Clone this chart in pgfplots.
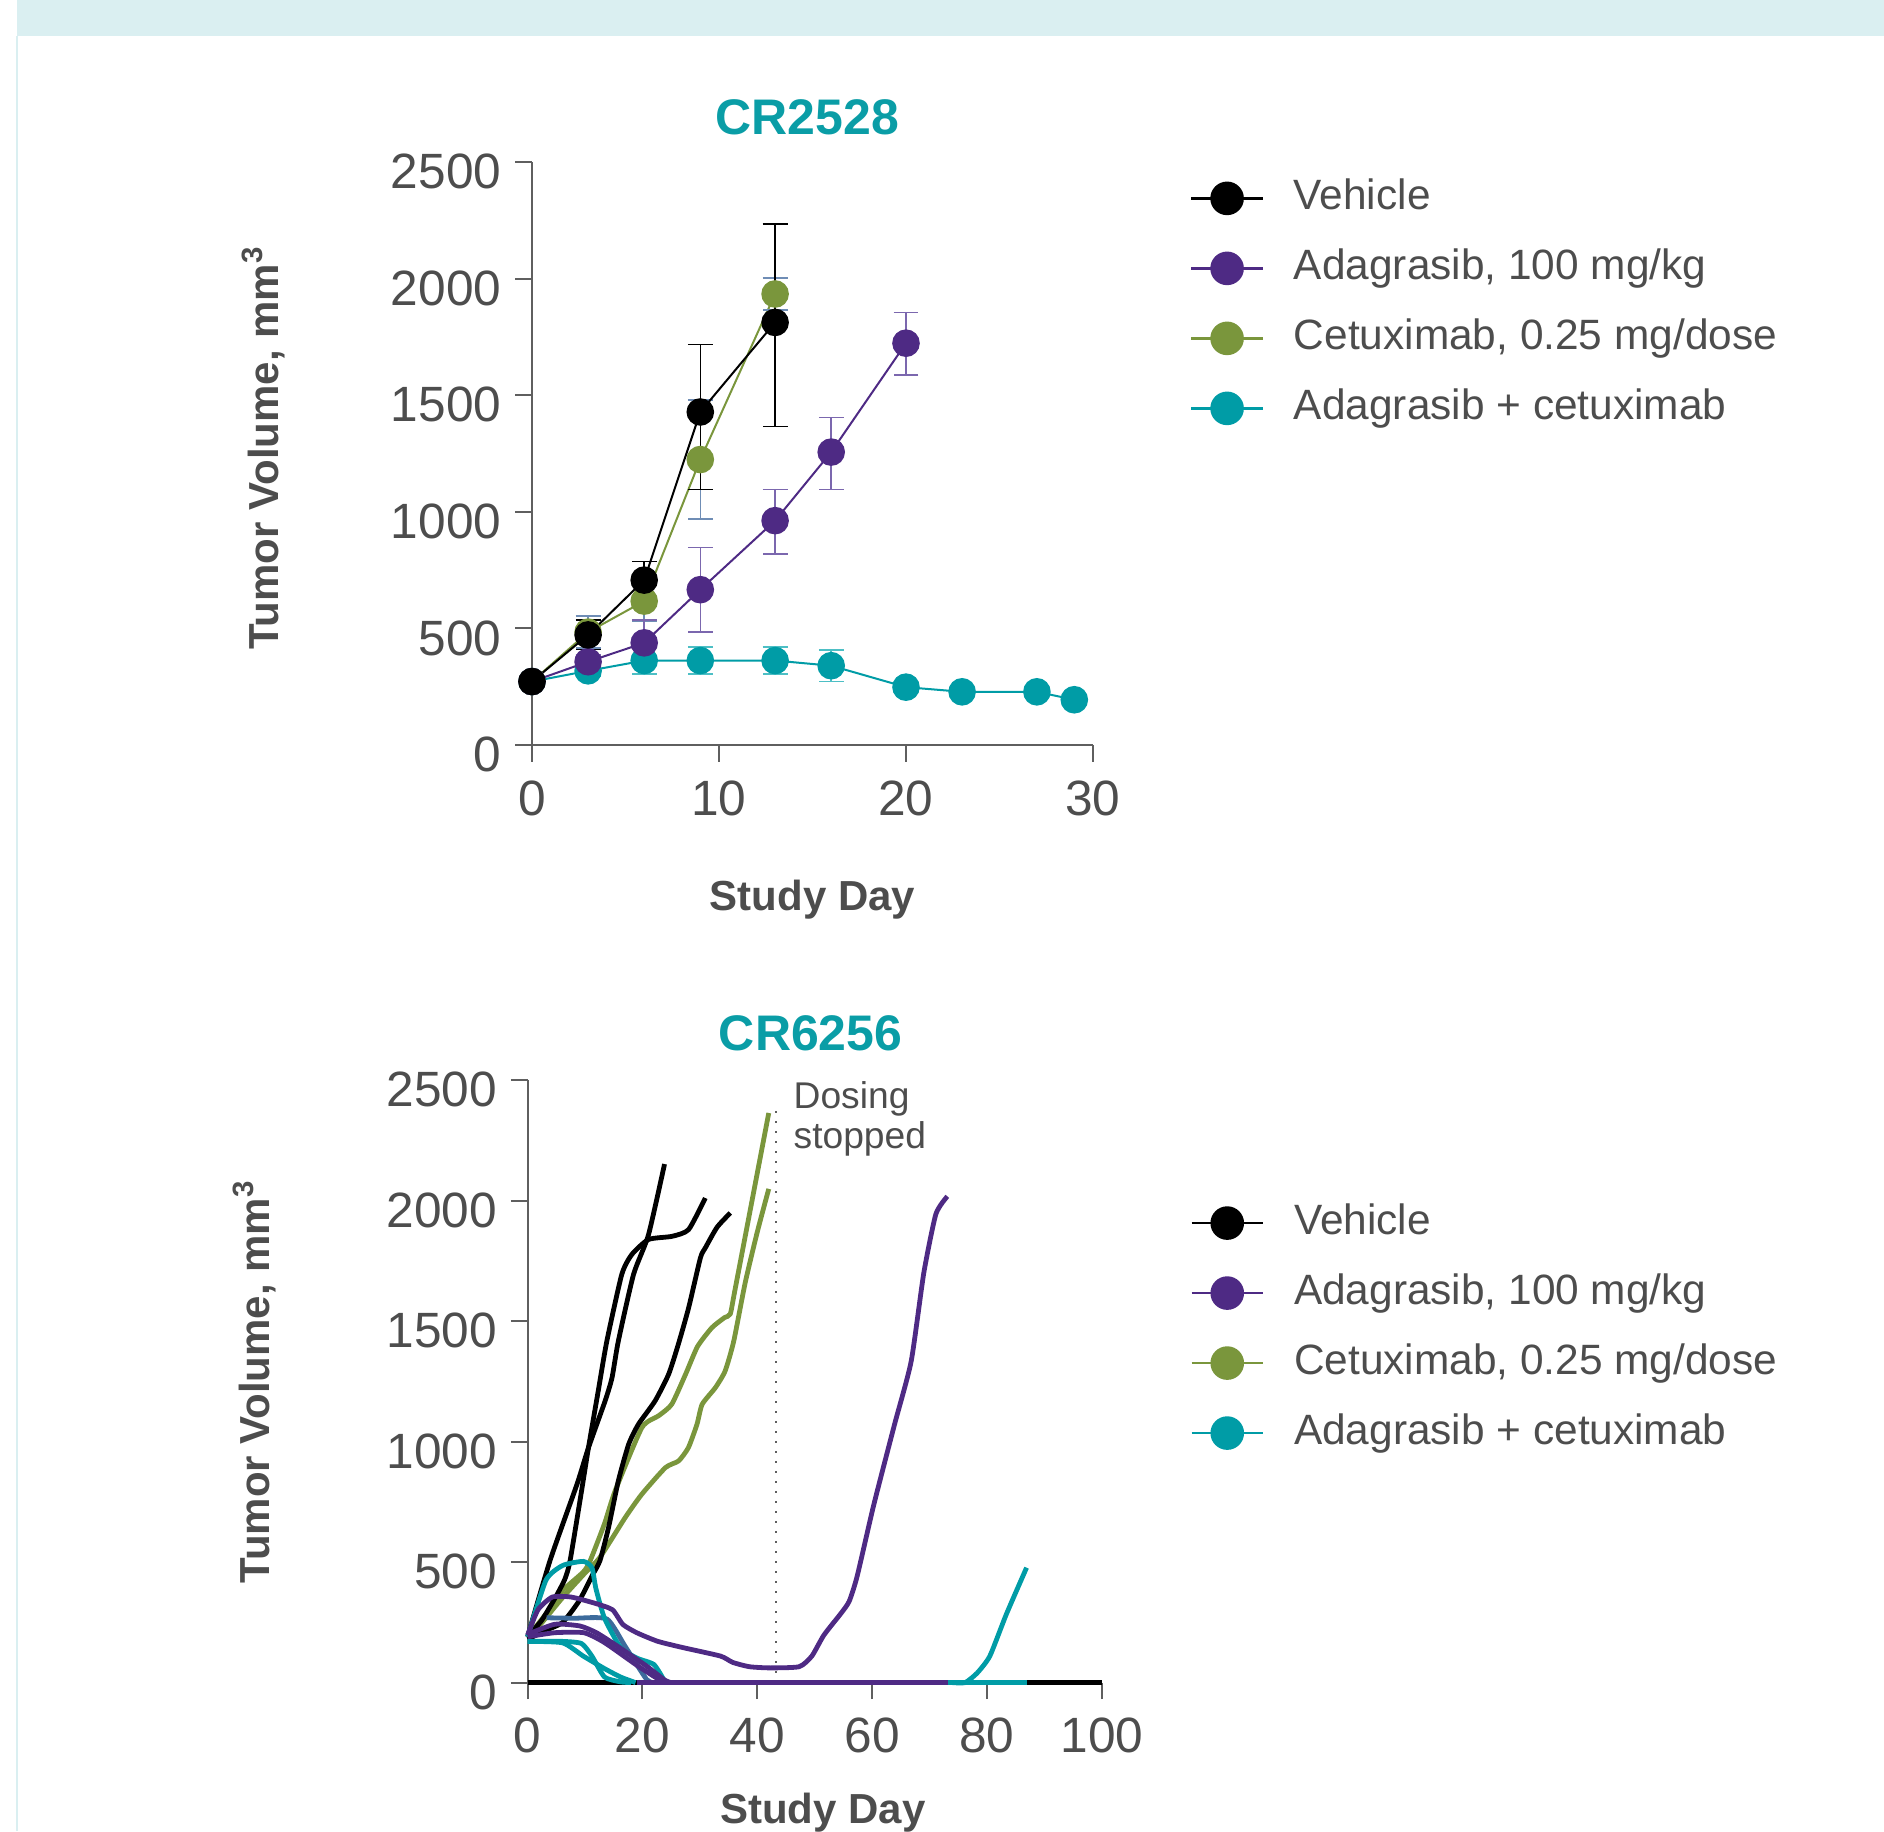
\documentclass[border=0pt]{standalone}
\usepackage{fontspec}
\setmainfont{Liberation Sans}
\usepackage{pgfplots}
\pgfplotsset{compat=1.18}
\definecolor{ada}{HTML}{4E2A84}
\definecolor{cet}{HTML}{7A963C}
\definecolor{combo}{HTML}{009CA6}
\definecolor{steel}{HTML}{3D6B9C}
\definecolor{ttl}{HTML}{0A9DA6}
\definecolor{txt}{HTML}{4D4D4D}
\definecolor{axc}{HTML}{5F5F5F}
\definecolor{band}{HTML}{DAEFF1}
\definecolor{adaerr}{HTML}{7B67AE}
\definecolor{ceterr}{HTML}{6F8DB5}
\definecolor{comboerr}{HTML}{4DBFC5}
\pgfplotsset{
  common/.style={
    scale only axis,
    axis x line*=bottom, axis y line*=left,
    axis line style={axc, line width=0.5pt},
    tick align=outside,
    major tick length=4.15pt,
    every tick/.style={axc, line width=0.5pt},
    tick label style={font=\fontsize{12.4}{14}\selectfont, text=txt},
    yticklabel style={yshift=-2.4pt},
    xticklabel style={yshift=-1.2pt},
    /pgf/number format/assume math mode=true,
    /pgf/number format/1000 sep={},
    label style={font=\bfseries\fontsize{10.5}{12}\selectfont, text=txt},
    title style={font=\bfseries\fontsize{12.5}{14}\selectfont, text=ttl},
    ymin=0, ymax=2500, ytick={0,500,...,2500},
    clip=false,
    legend cell align=left,
    legend style={draw=none, fill=none, inner sep=0pt, row sep=7.0pt,
      font=\fontsize{10.6}{12}\selectfont,
      nodes={inner sep=0pt, text height=8pt, text depth=2.5pt, text=txt},
      /tikz/every odd column/.append style={column sep=7.5pt}},
    legend image code/.code={\draw[#1, mark repeat=2, mark phase=2, line width=0.6pt] plot coordinates {(0pt,0pt) (8.9pt,0pt) (17.8pt,0pt)};},
  },
  crv/.style={line width=1.2pt, smooth, tension=0.35, forget plot},
}
\begin{document}
\begin{tikzpicture}
\useasboundingbox (0,0) rectangle (471pt,457.75pt);
\fill[band] (4.25pt,448.75pt) rectangle (471pt,457.75pt);
\draw[band, line width=0.6pt] (4.25pt,0pt) -- (4.25pt,448.75pt);

% ---------------- top chart ----------------
\begin{axis}[common, at={(133pt,271.5pt)}, anchor=south west,
  width=140.25pt, height=145.75pt,
  xmin=0, xmax=30, xtick={0,10,20,30},
  title={CR2528}, title style={at={(axis description cs:0.491,1.035)}, anchor=center},
  xlabel={Study Day}, xlabel style={at={(axis description cs:0.5,-0.265)}, anchor=center},
  ylabel={Tumor Volume, mm\textsuperscript{3}}, ylabel style={at={(axis description cs:-0.478,0.51)}, anchor=center},
  legend style={at={(axis description cs:1.172,0.975)}, anchor=north west},
]
\addlegendimage{black, mark=*, mark size=3.9pt}
\addlegendentry{Vehicle}
\addlegendimage{ada, mark=*, mark size=3.9pt}
\addlegendentry{Adagrasib, 100 mg/kg}
\addlegendimage{cet, mark=*, mark size=3.9pt}
\addlegendentry{Cetuximab, 0.25 mg/dose}
\addlegendimage{combo, mark=*, mark size=3.9pt}
\addlegendentry{Adagrasib + cetuximab}

\addplot[combo, line width=0.5pt, mark=*, mark size=3.2pt, forget plot,
  error bars/.cd, y dir=both, y explicit,
  error bar style={comboerr, line width=0.4pt},
  error mark options={rotate=90, mark size=3.1pt, comboerr, line width=0.4pt}]
  coordinates {(0,272) +- (0,0) (3,318) +- (0,25) (6,362) +- (0,58) (9,362) +- (0,58) (13,362) +- (0,58) (16,340) +- (0,68) (20,248) +- (0,15) (23,228) +- (0,15) (27,228) +- (0,15) (29,194) +- (0,15)};
\addplot[cet, line width=0.5pt, mark=*, mark size=3.2pt, forget plot,
  error bars/.cd, y dir=both, y explicit,
  error bar style={ceterr, line width=0.4pt},
  error mark options={rotate=90, mark size=3.1pt, ceterr, line width=0.4pt}]
  coordinates {(0,272) +- (0,0) (3,484) +- (0,68) (6,617) +- (0,85) (9,1224) +- (0,256) (13,1934) +- (0,68)};
\addplot[ada, line width=0.5pt, mark=*, mark size=3.2pt, forget plot,
  error bars/.cd, y dir=both, y explicit,
  error bar style={adaerr, line width=0.4pt},
  error mark options={rotate=90, mark size=3.1pt, adaerr, line width=0.4pt}]
  coordinates {(0,272) +- (0,0) (3,357) +- (0,30) (6,438) +- (0,97) (9,666) +- (0,181) (13,962) += (0,134) -= (0,143) (16,1256) += (0,148) -= (0,160) (20,1723) += (0,131) -= (0,137)};
\addplot[black, line width=0.5pt, mark=*, mark size=3.2pt, forget plot,
  error bars/.cd, y dir=both, y explicit,
  error bar style={black, line width=0.4pt},
  error mark options={rotate=90, mark size=3.1pt, black, line width=0.4pt}]
  coordinates {(0,272) +- (0,0) (3,472) += (0,63) -= (0,62) (6,707) += (0,80) -= (0,82) (9,1428) += (0,290) -= (0,332) (13,1812) += (0,423) -= (0,447)};
\end{axis}

% ---------------- bottom chart ----------------
\begin{axis}[common, at={(131.9pt,37.1pt)}, anchor=south west,
  width=143.55pt, height=150.6pt,
  xmin=0, xmax=100, xtick={0,20,...,100},
  title={CR6256}, title style={at={(axis description cs:0.493,1.038)}, anchor=center},
  xlabel={Study Day}, xlabel style={at={(axis description cs:0.514,-0.216)}, anchor=center},
  ylabel={Tumor Volume, mm\textsuperscript{3}}, ylabel style={at={(axis description cs:-0.4755,0.5)}, anchor=center},
  legend style={at={(axis description cs:1.153,0.799)}, anchor=north west},
]
\addlegendimage{black, mark=*, mark size=3.9pt}
\addlegendentry{Vehicle}
\addlegendimage{ada, mark=*, mark size=3.9pt}
\addlegendentry{Adagrasib, 100 mg/kg}
\addlegendimage{cet, mark=*, mark size=3.9pt}
\addlegendentry{Cetuximab, 0.25 mg/dose}
\addlegendimage{combo, mark=*, mark size=3.9pt}
\addlegendentry{Adagrasib + cetuximab}

\addplot[axc, dotted, line width=0.5pt, forget plot] coordinates {(43.2,0) (43.2,2372)};
\addplot[black, line width=1.3pt, forget plot] coordinates {(0,0) (100,0)};

% cetuximab
\addplot[cet, crv] coordinates {(0,190) (3.2,285) (6,380) (9.7,459) (10.9,506) (13.4,660) (15.25,796) (19.9,1058) (22.8,1107) (25.1,1155) (27.5,1279) (29.6,1395) (32.1,1473) (34.3,1515) (35.3,1530) (36.2,1640) (42,2364)};
\addplot[cet, crv] coordinates {(0,190) (2,235) (6,350) (10,455) (12.6,520) (17,685) (19.9,782) (24,892) (26.3,920) (28,975) (29.5,1072) (30.4,1155) (32.7,1224) (34.4,1293) (35.9,1417) (37.9,1660) (40,1870) (42,2049)};
% vehicle
\addplot[black, crv] coordinates {(0,190) (3.9,506) (8.6,823) (10.6,975) (13.5,1169) (14.7,1265) (15.8,1417) (18.45,1694) (21.06,1859) (23.85,2152)};
\addplot[black, crv] coordinates {(0,190) (2.5,260) (5,360) (6.5,430) (7.4,506) (9.4,796) (10.6,975) (12.3,1210) (13.8,1417) (16.4,1694) (18.16,1777) (21.06,1839) (25.14,1852) (28.04,1880) (30.95,2011)};
\addplot[black, crv] coordinates {(0,180) (3,215) (6.1,250) (9,340) (11.2,442) (12.6,506) (14.1,644) (15.8,837) (17.6,989) (19.3,1072) (22.2,1169) (24.55,1279) (26.2,1400) (28.04,1555) (30.1,1763) (30.95,1804) (33,1890) (35.3,1949)};
% steel blue
\addplot[steel, crv] coordinates {(3.3,269) (8,267) (13.8,264) (17,150) (20.7,14) (22,0)};
% combo (drawn below purple)
\addplot[combo, crv] coordinates {(0,190) (3.2,425) (6.1,486) (9.7,503) (11.2,477) (11.9,390) (13.4,267) (16.2,145) (19.1,101) (22,75) (23.8,10) (24.5,0)};
\addplot[combo, crv] coordinates {(0,171) (6.1,171) (9.4,162) (11.2,110) (13.4,23) (16.2,3) (18,0)};
\addplot[combo, crv] coordinates {(0,171) (6.1,165) (9.7,110) (13.4,58) (16.2,23) (18.8,0)};
% adagrasib
\addplot[ada, crv] coordinates {(0,197) (1.8,302) (4.3,355) (7.6,355) (11.9,328) (14.8,302) (16.6,241) (19.1,206) (22.7,171) (27.1,145) (33.6,110) (35.7,84) (38.6,66) (42.2,61) (47.3,66) (49.5,110) (51.6,197) (54.5,285) (56,337) (57.4,442) (60.3,739) (63.9,1071) (66.8,1333) (69,1700) (71.1,1944) (73.1,2018)};
\addplot[ada, crv] coordinates {(0,200) (4.7,242) (9.1,235) (12,207) (15.6,152) (20.7,69) (23.9,10) (25,0)};
\addplot[ada, crv] coordinates {(0,190) (4.7,207) (9.8,207) (13.4,166) (19.2,69) (22.8,14) (24,0)};
\addplot[ada, line width=1.3pt, forget plot] coordinates {(19,0) (73.3,0)};
% combo late
\addplot[combo, line width=1.3pt, forget plot] coordinates {(73.3,0) (87,0)};
\addplot[combo, crv] coordinates {(74,0) (76.2,0) (78.3,40) (80.5,110) (83.4,285) (86.9,477)};

\node[anchor=north west, align=left, inner sep=0pt, text=txt, font=\fontsize{9.3}{10}\selectfont] at (axis cs:46.2,2497) {Dosing\\stopped};
\end{axis}
\end{tikzpicture}
\end{document}
